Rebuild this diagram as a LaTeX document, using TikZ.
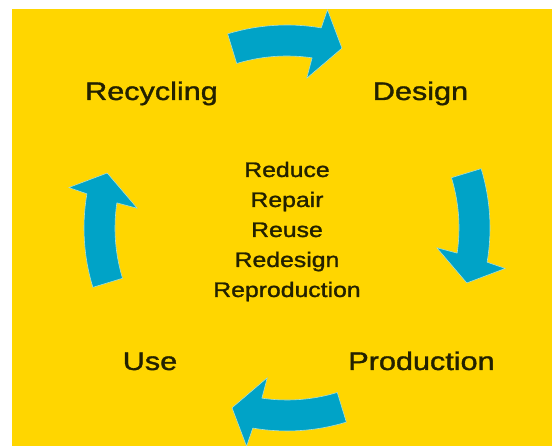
\documentclass[tikz,border=0pt]{standalone}
\usepackage{fontspec}
\setmainfont{Liberation Sans}[FakeBold=1.2]
\definecolor{bgyellow}{RGB}{255,214,0}
\definecolor{arrowblue}{RGB}{0,163,199}
\definecolor{arrowedge}{RGB}{170,222,210}
\definecolor{labeltext}{RGB}{35,33,0}
\tikzset{
  cyclearrow/.style={fill=arrowblue, draw=arrowedge, line width=0.6pt, line join=round},
  mainlabel/.style={anchor=base, inner sep=0pt, text=labeltext, font=\fontsize{25.5}{30}\selectfont},
  centerlabel/.style={anchor=base, inner sep=0pt, text=labeltext, font=\fontsize{21}{30}\selectfont}
}
\begin{document}
\begin{tikzpicture}[x=1pt,y=1pt]
  \useasboundingbox (0,0) rectangle (552,446);
  \fill[white] (0,0) rectangle (552,446);
  \fill[bgyellow] (12,0) rectangle (552,437);
  % four curved arrows around the centre
  \begin{scope}[shift={(287,218)}]
    \foreach \a in {90,0,-90,180}{
      \draw[cyclearrow] (\a+17:203) arc[start angle=\a+17, end angle=\a-9.7, radius=203]
        -- (\a-10.5:222) -- (\a-17:188) -- (\a-7.5:151) -- (\a-8.4:172)
        arc[start angle=\a-8.4, end angle=\a+17, radius=172] -- cycle;
    }
  \end{scope}
  % labels
  \node[mainlabel] (recycling) at (151.5,346) {\scalebox{1.2}[1]{Recycling}};
  \node[mainlabel] (design) at (420.5,346) {\scalebox{1.2}[1]{Design}};
  \node[mainlabel] (use) at (150,76) {\scalebox{1.2}[1]{Use}};
  \node[mainlabel] (production) at (421.5,76) {\scalebox{1.2}[1]{Production}};
  \node[centerlabel] (centre) at (287,269) {\scalebox{1.18}[1]{\begin{tabular}[t]{@{}c@{}}Reduce\\Repair\\Reuse\\Redesign\\Reproduction\end{tabular}}};
\end{tikzpicture}
\end{document}
